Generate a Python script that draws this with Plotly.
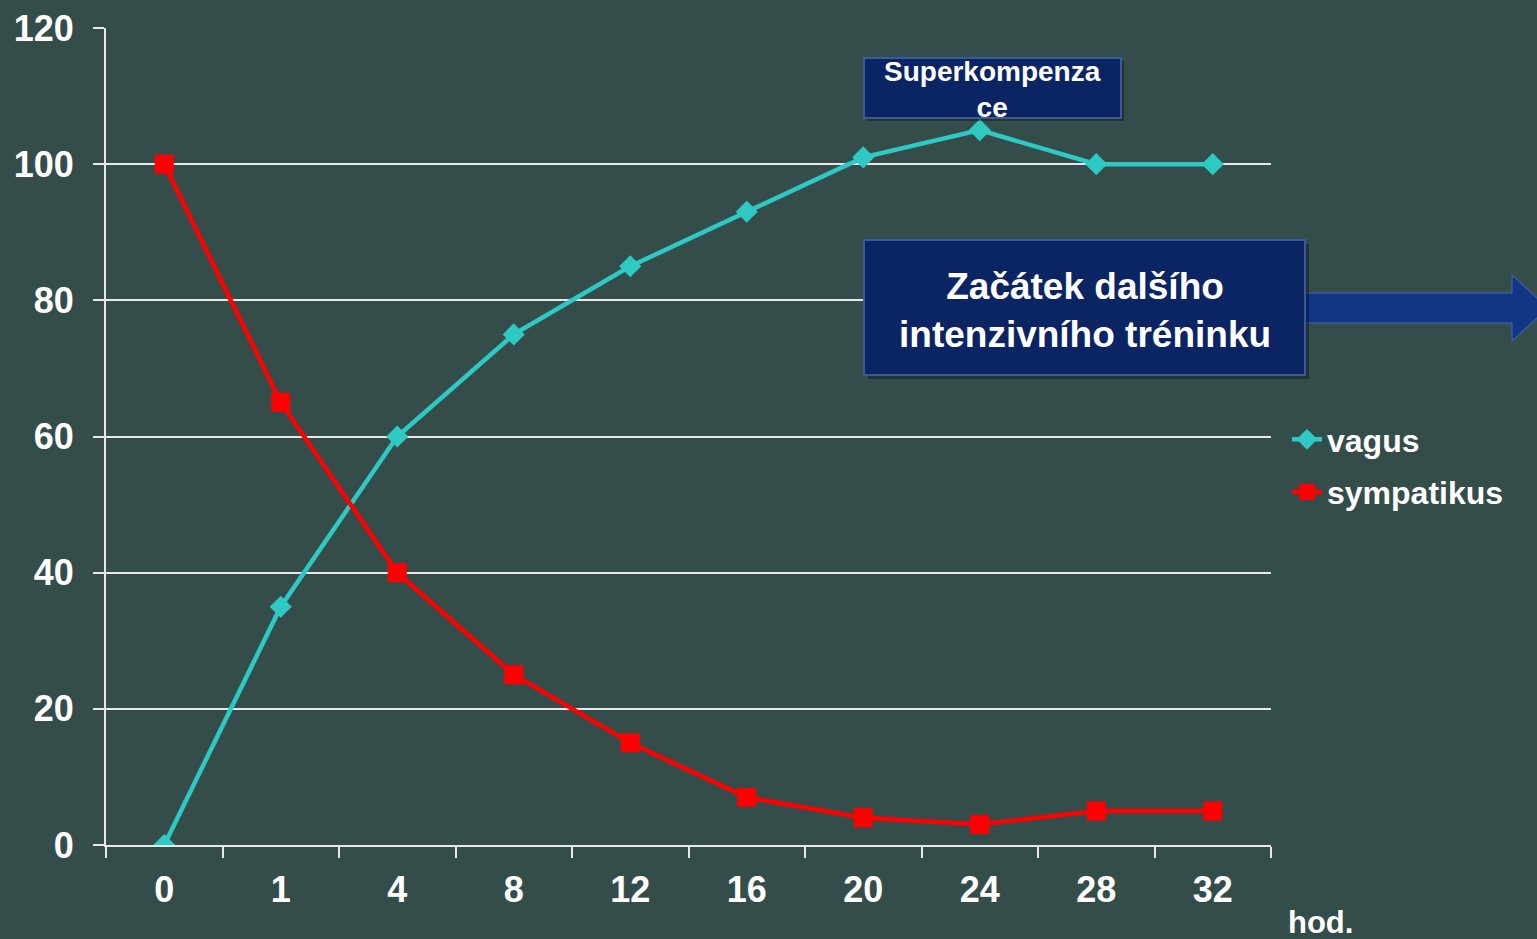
import plotly.graph_objects as go

categories = ["0", "1", "4", "8", "12", "16", "20", "24", "28", "32"]
vagus = [0, 35, 60, 75, 85, 93, 101, 105, 100, 100]
sympatikus = [100, 65, 40, 25, 15, 7, 4, 3, 5, 5]
y_ticks = [0, 20, 40, 60, 80, 100, 120]

BG = "#354D4A"
NAVY = "#0B2463"
FONT = "Liberation Sans, Arial, sans-serif"

# plot area in pixels (for placing annotation boxes)
L, R, T, B = 106, 1271, 28, 845
def px(x):
    return (x - L) / (R - L)
def py(y):
    return (B - y) / (B - T)

fig = go.Figure()
fig.add_trace(go.Scatter(
    x=categories, y=vagus, name="vagus", mode="lines+markers",
    line=dict(color="#2EC9C3", width=4.5),
    marker=dict(symbol="diamond", size=17, color="#2EC9C3"),
    legendgroup="a",
))
fig.add_trace(go.Scatter(
    x=categories, y=sympatikus, name="sympatikus", mode="lines+markers",
    line=dict(color="#FF0000", width=4.5),
    marker=dict(symbol="square", size=19, color="#FF0000"),
    legendgroup="b",
))

shapes = []
# Superkompenzace box
shapes.append(dict(type="rect", xref="paper", yref="paper",
                   x0=px(867), x1=px(1124), y0=py(121), y1=py(61),
                   fillcolor="rgba(0,0,0,0.35)", line=dict(width=0), layer="above"))
shapes.append(dict(type="rect", xref="paper", yref="paper",
                   x0=px(864), x1=px(1121), y0=py(118), y1=py(58),
                   fillcolor=NAVY, line=dict(color="#3A5A9A", width=2), layer="above"))
# arrow
arrow_pts = [(1297, 293), (1512, 293), (1512, 275), (1548, 308),
             (1512, 341), (1512, 323), (1297, 323)]
path = "M " + " L ".join(f"{px(a):.5f},{py(b):.5f}" for a, b in arrow_pts) + " Z"
shapes.append(dict(type="path", xref="paper", yref="paper", path=path,
                   fillcolor="#123585", line=dict(color="#3A5A9A", width=1.5), layer="above"))
# big box
shapes.append(dict(type="rect", xref="paper", yref="paper",
                   x0=px(868), x1=px(1309), y0=py(379), y1=py(244),
                   fillcolor="rgba(0,0,0,0.35)", line=dict(width=0), layer="above"))
shapes.append(dict(type="rect", xref="paper", yref="paper",
                   x0=px(864), x1=px(1305), y0=py(375), y1=py(240),
                   fillcolor=NAVY, line=dict(color="#3A5A9A", width=2), layer="above"))

annotations = [
    dict(xref="paper", yref="paper", x=px(992.5), y=py(89),
         text="Superkompenza<br>ce", showarrow=False,
         font=dict(family=FONT, size=28, color="white", weight="bold"),
         xanchor="center", yanchor="middle"),
    dict(xref="paper", yref="paper", x=px(1084.5), y=py(310),
         text="Začátek dalšího<br>intenzivního tréninku", showarrow=False,
         font=dict(family=FONT, size=37, color="white", weight="bold"),
         xanchor="center", yanchor="middle"),
    dict(xref="paper", yref="paper", x=px(1320), y=py(922),
         text="hod.", showarrow=False,
         font=dict(family=FONT, size=31, color="white", weight="bold"),
         xanchor="center", yanchor="middle"),
]

fig.update_layout(
    width=1537, height=939,
    margin=dict(l=L, r=1537 - R, t=T, b=939 - B, autoexpand=False),
    paper_bgcolor=BG, plot_bgcolor=BG,
    font=dict(family=FONT, color="white", weight="bold"),
    shapes=shapes, annotations=annotations,
    showlegend=True,
    legend=dict(x=px(1287), y=py(412), xanchor="left", yanchor="top",
                bgcolor="rgba(0,0,0,0)", traceorder="grouped", tracegroupgap=8,
                font=dict(family=FONT, size=32, color="white", weight="bold")),
    xaxis=dict(
        type="category", range=[-0.5, 9.5], automargin=False,
        showline=True, linecolor="#E8E8E8", linewidth=2,
        ticks="outside", tickson="boundaries", ticklen=11, tickwidth=2, tickcolor="#E8E8E8",
        showgrid=False, zeroline=False,
        tickfont=dict(family=FONT, size=36, color="white", weight="bold"),
        ticklabelstandoff=12,
    ),
    yaxis=dict(
        range=[0, 120], tickvals=y_ticks, automargin=False,
        showline=True, linecolor="#E8E8E8", linewidth=2,
        ticks="outside", ticklen=11, tickwidth=2, tickcolor="#E8E8E8",
        showgrid=True, gridcolor="#E8E8E8", gridwidth=1.5, zeroline=False,
        tickfont=dict(family=FONT, size=36, color="white", weight="bold"),
        ticklabelstandoff=12,
    ),
)

fig.write_html("out.html", config={"displayModeBar": False},
               post_script="document.body.style.margin='0';document.body.style.background='#354D4A';")
